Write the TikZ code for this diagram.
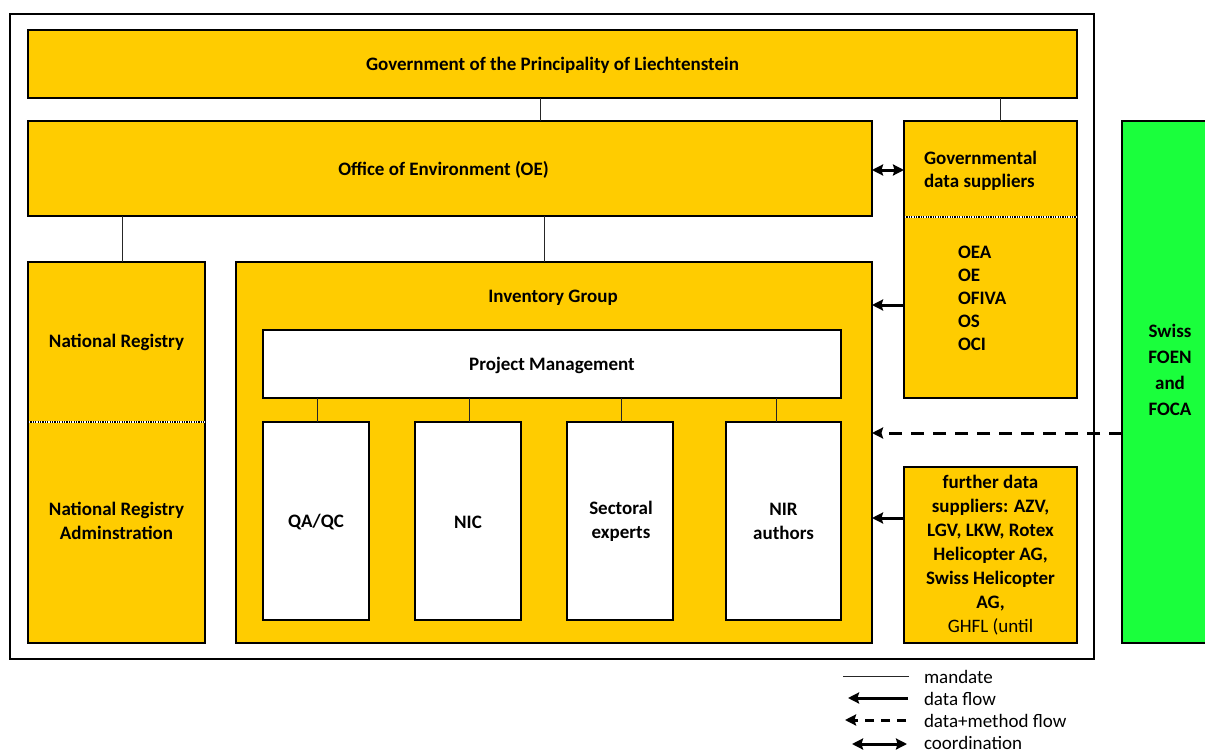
\documentclass[tikz,border=0pt]{standalone}
\usepackage{fontspec}
\setmainfont{Carlito}
\usetikzlibrary{arrows.meta}
\definecolor{yfill}{RGB}{255,204,0}
\definecolor{gfill}{RGB}{26,255,60}
\begin{document}
\begin{tikzpicture}[x=1pt,y=-1pt,
  bfnt/.style={font=\fontsize{19}{23.5}\selectfont\bfseries},
  box/.style={draw=black, line width=1.6pt, fill=yfill, inner sep=0pt, outer sep=0pt, align=center, bfnt},
  wbox/.style={box, fill=white},
  txt/.style={inner sep=0pt, outer sep=0pt, align=center, bfnt},
  legtxt/.style={inner sep=0pt, outer sep=0pt, anchor=west, font=\fontsize{19}{23.5}\selectfont},
  mandate/.style={line width=1pt, black!85},
  tipA/.style={},
  flow/.style={line width=3pt, -{Stealth[length=11pt,width=11pt,inset=1.5pt]}},
  dflow/.style={flow, dash pattern=on 13pt off 9pt},
  coordarrow/.style={line width=3pt, {Stealth[length=11pt,width=11pt,inset=1.5pt]}-{Stealth[length=11pt,width=11pt,inset=1.5pt]}},
  sepw/.style={white, line width=2.4pt},
  sepb/.style={black, line width=2.4pt, dash pattern=on 1.2pt off 1.2pt},
]
\useasboundingbox (0,0) rectangle (1205,752);

% outer frame
\node[draw=black, line width=2pt, minimum width=1084pt, minimum height=645pt, inner sep=0pt, outer sep=0pt] (frame) at (552,336.5) {};

% boxes
\node[box, minimum width=1049pt, minimum height=68pt] (gov) at (552.5,64) {};
\node[txt] (govtxt) at (552.5,65.5) {Government of the Principality of Liechtenstein};
\node[box, minimum width=844pt, minimum height=95pt] (oe) at (450,168.5) {};
\node[txt] (oetxt) at (443.5,169.5) {Office of Environment (OE)};

\node[box, minimum width=173pt, minimum height=277pt] (gds) at (990.5,259.5) {};
\coordinate (gdssep) at (0,217);
\draw[sepw] (gds.west |- gdssep) -- (gds.east |- gdssep);
\draw[sepb] (gds.west |- gdssep) -- (gds.east |- gdssep);
\node[txt, anchor=west, align=left] (gdstxt) at (924,171) {Governmental\\data suppliers};
\node[txt, anchor=west, align=left, font=\fontsize{19}{23}\selectfont\bfseries] (gdslist) at (958,298) {OEA\\OE\\OFIVA\\OS\\OCI};

\node[box, minimum width=177pt, minimum height=381pt] (nr) at (116.5,452.5) {};
\coordinate (nrsep) at (0,422);
\draw[sepw] (nr.west |- nrsep) -- (nr.east |- nrsep);
\draw[sepb] (nr.west |- nrsep) -- (nr.east |- nrsep);
\node[txt] (nrtxt) at (116.5,342.5) {National Registry};
\node[txt] (nratxt) at (116.5,521) {National Registry\\Adminstration};

\node[box, minimum width=636pt, minimum height=381pt] (ig) at (554,452.5) {};
\node[txt] (igtxt) at (553,297.5) {Inventory Group};
\node[wbox, minimum width=578pt, minimum height=68pt] (pm) at (552,364) {};
\node[txt] (pmtxt) at (552,365.5) {Project Management};
\node[wbox, minimum width=106pt, minimum height=198pt] (qa) at (316,521) {};
\node[txt] (qatxt) at (316,522) {QA/QC};
\node[wbox, minimum width=106pt, minimum height=198pt] (nic) at (468,521) {};
\node[txt] (nictxt) at (468,522) {NIC};
\node[wbox, minimum width=106pt, minimum height=198pt] (sec) at (620,521) {};
\node[txt] (sectxt) at (621,521.5) {Sectoral\\experts};
\node[wbox, minimum width=115pt, minimum height=198pt] (nir) at (783.5,521) {};
\node[txt] (nirtxt) at (783.5,521.5) {NIR\\authors};

\node[box, minimum width=173pt, minimum height=176pt] (further) at (990.5,555) {};
\node[txt, font=\fontsize{19}{24}\selectfont\bfseries] (furthertxt) at (990.5,555.5) {further data\\suppliers: AZV,\\LGV, LKW, Rotex\\Helicopter AG,\\Swiss Helicopter\\AG,\\{\mdseries GHFL (until}};

% Swiss box (cut by the page edge)
\node[fill=gfill, minimum width=83pt, minimum height=522pt, anchor=north west, inner sep=0pt, outer sep=0pt] (swiss) at (1122,121) {};
\draw[line width=1.6pt] (swiss.north east) -- (swiss.north west) -- (swiss.south west) -- (swiss.south east);
\node[txt, font=\fontsize{19}{26}\selectfont\bfseries] (swisstxt) at (1170,370) {Swiss\\FOEN\\and\\FOCA};

% mandate lines
\coordinate (m1) at (540,0);
\coordinate (m2) at (1000,0);
\coordinate (m3) at (122,0);
\coordinate (m4) at (544,0);
\coordinate (m5) at (317,0);
\coordinate (m6) at (469,0);
\coordinate (m7) at (621,0);
\coordinate (m8) at (776,0);
\draw[mandate] (gov.south -| m1) -- (oe.north -| m1);
\draw[mandate] (gov.south -| m2) -- (gds.north -| m2);
\draw[mandate] (oe.south -| m3) -- (nr.north -| m3);
\draw[mandate] (oe.south -| m4) -- (ig.north -| m4);
\draw[mandate] (pm.south -| m5) -- (qa.north -| m5);
\draw[mandate] (pm.south -| m6) -- (nic.north -| m6);
\draw[mandate] (pm.south -| m7) -- (sec.north -| m7);
\draw[mandate] (pm.south -| m8) -- (nir.north -| m8);

% flows
\coordinate (f0) at (0,170);
\coordinate (f1) at (0,305);
\coordinate (f2) at (0,433);
\coordinate (f3) at (0,518);
\draw[coordarrow] (oe.east |- f0) -- (gds.west |- f0);
\draw[flow] (gds.west |- f1) -- (ig.east |- f1);
\draw[dflow] (swiss.west |- f2) -- (ig.east |- f2);
\draw[flow] (further.west |- f3) -- (ig.east |- f3);

% legend
\coordinate (l1a) at (909,676);
\coordinate (l1b) at (843,676);
\coordinate (l2a) at (908,698);
\coordinate (l2b) at (848,698);
\coordinate (l3a) at (906,720);
\coordinate (l3b) at (845,720);
\coordinate (l4a) at (852,744);
\coordinate (l4b) at (907,744);
\draw[mandate] (l1a) -- (l1b);
\draw[flow] (l2a) -- (l2b);
\draw[flow, dash pattern=on 9pt off 7pt] (l3a) -- (l3b);
\draw[coordarrow] (l4a) -- (l4b);
\node[legtxt] (leg1) at (924,676.5) {mandate};
\node[legtxt] (leg2) at (924,698.5) {data flow};
\node[legtxt] (leg3) at (924,721) {data+method flow};
\node[legtxt] (leg4) at (924,743) {coordination};
\end{tikzpicture}
\end{document}
